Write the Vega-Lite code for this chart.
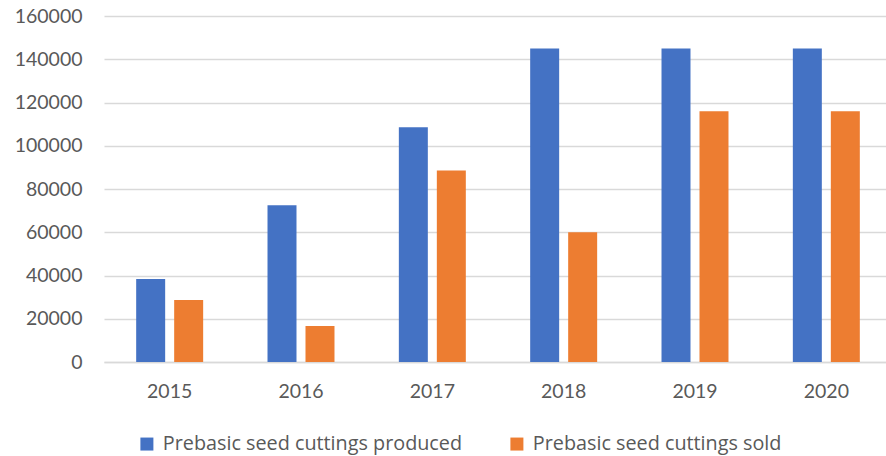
{
  "$schema": "https://vega.github.io/schema/vega-lite/v6.json",
  "width": 788,
  "height": 346,
  "autosize": {"type": "none"},
  "padding": {"left": 104, "top": 16, "right": 0, "bottom": 94},
  "background": "white",
  "config": {
    "view": {"stroke": null},
    "font": "Lato",
    "axis": {"labelFont": "Lato", "labelColor": "#595959", "labelFontSize": 19.5}
  },
  "data": {
    "values": [
      {"year": "2015", "series": "Prebasic seed cuttings produced", "value": 38400},
      {"year": "2015", "series": "Prebasic seed cuttings sold", "value": 28700},
      {"year": "2016", "series": "Prebasic seed cuttings produced", "value": 72500},
      {"year": "2016", "series": "Prebasic seed cuttings sold", "value": 16700},
      {"year": "2017", "series": "Prebasic seed cuttings produced", "value": 108600},
      {"year": "2017", "series": "Prebasic seed cuttings sold", "value": 88500},
      {"year": "2018", "series": "Prebasic seed cuttings produced", "value": 145000},
      {"year": "2018", "series": "Prebasic seed cuttings sold", "value": 60000},
      {"year": "2019", "series": "Prebasic seed cuttings produced", "value": 145000},
      {"year": "2019", "series": "Prebasic seed cuttings sold", "value": 116000},
      {"year": "2020", "series": "Prebasic seed cuttings produced", "value": 145000},
      {"year": "2020", "series": "Prebasic seed cuttings sold", "value": 116000}
    ]
  },
  "mark": {"type": "bar"},
  "encoding": {
    "x": {
      "field": "year", "type": "nominal", "title": null,
      "scale": {"paddingInner": 0.49, "paddingOuter": 0.245},
      "axis": {"labelAngle": 0, "ticks": false, "domainColor": "#d9d9d9", "domainWidth": 1.5, "labelPadding": 20, "grid": false}
    },
    "xOffset": {
      "field": "series", "type": "nominal",
      "scale": {"paddingInner": 0.237, "paddingOuter": 0}
    },
    "y": {
      "field": "value", "type": "quantitative", "title": null,
      "scale": {"domain": [0, 160000], "nice": false},
      "axis": {"values": [0, 20000, 40000, 60000, 80000, 100000, 120000, 140000, 160000], "format": "d", "domain": false, "ticks": false, "labelPadding": 22, "gridColor": "#d9d9d9", "gridWidth": 1.5}
    },
    "color": {
      "field": "series", "type": "nominal", "title": null,
      "scale": {"range": ["#4472C4", "#ED7D31"]},
      "legend": {
        "orient": "none", "direction": "horizontal", "legendX": 33, "legendY": 418,
        "symbolType": "square", "symbolSize": 169, "symbolStrokeWidth": 0,
        "labelFont": "Open Sans", "labelFontSize": 19.8, "labelColor": "#595959",
        "labelOffset": 6, "columnPadding": 44, "labelLimit": 400
      }
    }
  }
}
